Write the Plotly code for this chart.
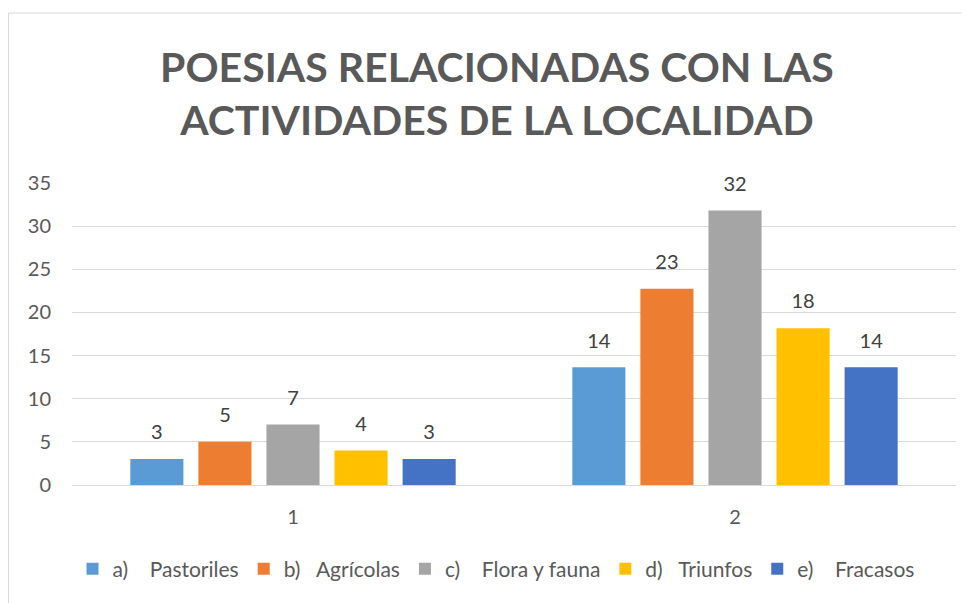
import plotly.graph_objects as go

categories = ["1", "2"]
series_names = ["a)\u00a0\u00a0\u00a0\u00a0Pastoriles", "b)\u00a0\u00a0\u00a0Agrícolas", "c)\u00a0\u00a0\u00a0\u00a0Flora y fauna",
                "d)\u00a0\u00a0\u00a0Triunfos", "e)\u00a0\u00a0\u00a0\u00a0Fracasos"]
pastoriles = [3, 13.64]
agricolas = [5, 22.73]
flora_fauna = [7, 31.82]
triunfos = [4, 18.18]
fracasos = [3, 13.64]
colors = ["#5B9BD5", "#ED7D31", "#A5A5A5", "#FFC000", "#4472C4"]
y_ticks = [0, 5, 10, 15, 20, 25, 30, 35]

FONT = "Lato"
fig = go.Figure()
series = [pastoriles, agricolas, flora_fauna, triunfos, fracasos]
for i, (name, vals, col) in enumerate(zip(series_names, series, colors)):
    fig.add_trace(go.Bar(
        x=categories, y=vals, name=name, marker=dict(color=col, line=dict(width=0)),
        offsetgroup=str(i), hoverinfo="x+y+name",
    ))
for i, vals in enumerate(series):
    fig.add_trace(go.Scatter(
        x=categories, y=vals, mode="markers+text", offsetgroup=str(i),
        text=[f"{v:.0f}" for v in vals], textposition="top center",
        textfont=dict(family=FONT, size=20, color="#404040"),
        marker=dict(size=22, opacity=0), showlegend=False, hoverinfo="skip", cliponaxis=False,
    ))

L, R, T, B = 64, 22, 175, 126
PW, PH = 970 - L - R, 603 - T - B

fig.update_layout(
    width=970, height=603,
    margin=dict(l=L, r=R, t=T, b=B),
    paper_bgcolor="white", plot_bgcolor="white",
    barmode="group", bargap=0.23, bargroupgap=0.22,
    scattermode="group", scattergap=0.23,
    title=dict(text="POESIAS RELACIONADAS CON LAS<br>ACTIVIDADES DE LA LOCALIDAD",
               x=0.504, xanchor="center", y=1 - 73.5 / 603, yanchor="middle",
               font=dict(family=FONT, size=41, color="#595959", weight="bold")),
    xaxis=dict(type="category", showgrid=False, showline=True, linecolor="#D9D9D9", linewidth=1,
               ticks="", ticklabelstandoff=14, tickfont=dict(family=FONT, size=20, color="#595959")),
    yaxis=dict(range=[0, 35], tickvals=y_ticks, showgrid=True, gridcolor="#D9D9D9", gridwidth=1,
               zeroline=False, showline=False, ticks="", ticklabelstandoff=20,
               tickfont=dict(family=FONT, size=20, color="#595959")),
    legend=dict(orientation="h", x=(488 - L) / PW, xanchor="center", y=-84 / PH, yanchor="middle",
                font=dict(family=FONT, size=21, color="#595959"), itemwidth=30,
                traceorder="normal"),
    showlegend=True,
    shapes=[
        dict(type="line", xref="paper", yref="paper", x0=(0.5 - L) / PW, x1=(0.5 - L) / PW,
             y0=-2, y1=(PH + T - 5) / PH, line=dict(color="#D9D9D9", width=1)),
        dict(type="line", xref="paper", yref="paper", x0=(0.5 - L) / PW, x1=2,
             y0=(PH + T - 5) / PH, y1=(PH + T - 5) / PH, line=dict(color="#D9D9D9", width=1)),
    ],
)

fig.write_html("out.html")
